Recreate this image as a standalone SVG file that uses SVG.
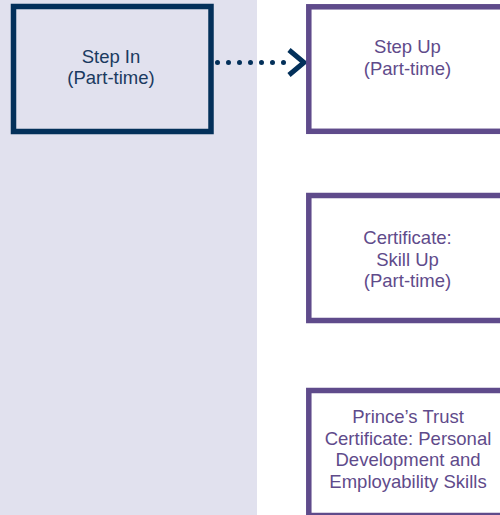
<svg xmlns="http://www.w3.org/2000/svg" width="500" height="515" viewBox="0 0 500 515">
  <style>
    .lbl { font-family: "Liberation Sans", Arial, Helvetica, sans-serif; font-size: 18.5px; text-anchor: middle; }
    .navy { fill: #1a3a60; }
    .purple { fill: #5f4b8b; }
    .boxN { fill: #e1e1ee; stroke: #03305a; stroke-width: 5.5; }
    .boxP { fill: #ffffff; stroke: #5f4b8b; stroke-width: 5.5; }
  </style>
  <rect x="0" y="0" width="257" height="515" fill="#e1e1ee"/>
  <g id="connectors">
    <line x1="217.5" y1="62.5" x2="285" y2="62.5" stroke="#03305a" stroke-width="5" stroke-linecap="round" stroke-dasharray="0 11"/>
    <polyline points="289,50 304,62.5 289,75" fill="none" stroke="#03305a" stroke-width="5"/>
  </g>
  <g id="step-in">
    <rect class="boxN" x="13.5" y="6.5" width="197.5" height="125"/>
    <text class="lbl navy" x="111" y="62.5">Step In</text>
    <text class="lbl navy" x="111" y="84">(Part-time)</text>
  </g>
  <g id="step-up">
    <rect class="boxP" x="308.8" y="6.8" width="200" height="124.5"/>
    <text class="lbl purple" x="407.5" y="53.3">Step Up</text>
    <text class="lbl purple" x="407.5" y="75">(Part-time)</text>
  </g>
  <g id="skill-up">
    <rect class="boxP" x="308.8" y="195.5" width="200" height="125"/>
    <text class="lbl purple" x="407.5" y="244">Certificate:</text>
    <text class="lbl purple" x="407.5" y="265.5">Skill Up</text>
    <text class="lbl purple" x="407.5" y="287">(Part-time)</text>
  </g>
  <g id="princes-trust">
    <rect class="boxP" x="308.8" y="390.5" width="200" height="125"/>
    <text class="lbl purple" x="408" y="422.7">Prince’s Trust</text>
    <text class="lbl purple" x="408" y="444.5">Certificate: Personal</text>
    <text class="lbl purple" x="408" y="466">Development and</text>
    <text class="lbl purple" x="408" y="487.7">Employability Skills</text>
  </g>
</svg>
